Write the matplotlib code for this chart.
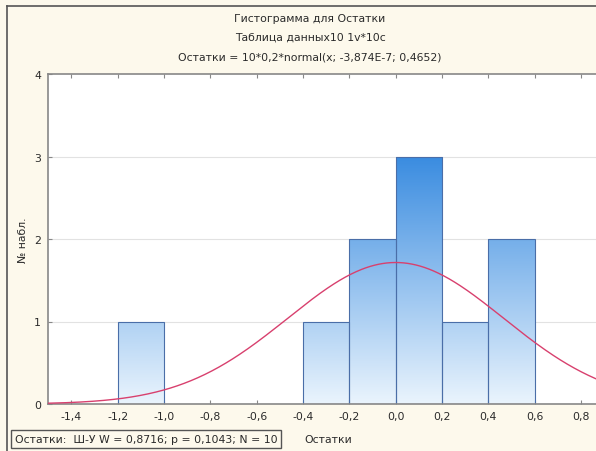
import numpy as np
import matplotlib
matplotlib.use("Agg")
import matplotlib.pyplot as plt
from matplotlib.colors import LinearSegmentedColormap
from matplotlib.patches import Rectangle
from matplotlib.lines import Line2D

# Data
bin_edges = [-1.2, -1.0, -0.8, -0.6, -0.4, -0.2, 0.0, 0.2, 0.4, 0.6]
counts = [1, 0, 0, 0, 1, 2, 3, 1, 2]
mu = -3.874e-7
sigma = 0.4652
n_obs = 10
bin_w = 0.2
xticks = [-1.4, -1.2, -1.0, -0.8, -0.6, -0.4, -0.2, 0.0, 0.2, 0.4, 0.6, 0.8]
yticks = [0, 1, 2, 3, 4]

title_lines = ["Гистограмма для Остатки",
               "Таблица данных10 1v*10c",
               "Остатки = 10*0,2*normal(x; -3,874E-7; 0,4652)"]
ylabel = "№ набл."
stat_text = "Остатки:  Ш-У W = 0,8716; p = 0,1043; N = 10"
xlabel = "Остатки"

plt.rcParams['font.family'] = ['DejaVu Sans']
FS = 7.8
TC = '#2a2a2a'

W, H = 596, 452
fig = plt.figure(figsize=(W / 100, H / 100), dpi=100)
fig.patch.set_facecolor('#fdf9ec')

# outer frame lines
fig.add_artist(Line2D([7 / W, 7 / W], [0, 1 - 7 / H], color='#555555', lw=1.2, transform=fig.transFigure))
fig.add_artist(Line2D([7 / W, 1], [1 - 7 / H, 1 - 7 / H], color='#555555', lw=1.2, transform=fig.transFigure))

ax = fig.add_axes([48 / W, 1 - 405 / H, 1 - 48 / W + 0.01, (405 - 75) / H])
ax.set_facecolor('white')
ax.set_xlim(-1.5, 0.89)
ax.set_ylim(0, 4)

# grid
for yv in yticks[1:-1]:
    ax.axhline(yv, color='#e2e2e2', lw=0.8, zorder=0)

# gradient bars
cmap = LinearSegmentedColormap.from_list('g', ['#eaf4fd', '#3a8ce0'])
grad = np.linspace(0, 1, 256).reshape(-1, 1)
for left, c in zip(bin_edges[:-1], counts):
    if c <= 0:
        continue
    im = ax.imshow(grad, extent=[left, left + bin_w, 0, 3], origin='lower',
                   cmap=cmap, aspect='auto', zorder=1, vmin=0, vmax=1)
    rect = Rectangle((left, 0), bin_w, c, facecolor='none', edgecolor='#4a6ea8', lw=0.8, zorder=2)
    ax.add_patch(rect)
    im.set_clip_path(rect)

# normal curve
xs = np.linspace(-1.5, 0.89, 400)
ys = n_obs * bin_w * np.exp(-0.5 * ((xs - mu) / sigma) ** 2) / (sigma * np.sqrt(2 * np.pi))
ax.plot(xs, ys, color='#d8406e', lw=1.0, zorder=3)

ax.set_xticks(xticks)
ax.set_xticklabels([f"{v:.1f}".replace('.', ',').replace('-0,0', '0,0') for v in xticks], fontsize=FS, color=TC)
ax.set_yticks(yticks)
ax.set_yticklabels([str(v) for v in yticks], fontsize=FS, color=TC)
ax.tick_params(direction='in', length=3, color='#888888', top=True, pad=5)
for s in ['left', 'bottom', 'top']:
    ax.spines[s].set_color('#888888')
    ax.spines[s].set_linewidth(1.2)
ax.spines['right'].set_visible(False)

ax.set_ylabel(ylabel, fontsize=FS, labelpad=4, color=TC)

for i, t in enumerate(title_lines):
    fig.text(310 / W, 1 - (19 + i * 19) / H, t, ha='center', va='center', fontsize=FS, color=TC)

fig.text(15 / W, 1 - 440 / H, stat_text, ha='left', va='center', fontsize=FS, color=TC,
         bbox=dict(boxstyle='square,pad=0.35', facecolor='none', edgecolor='#555555', lw=1.0))
fig.text(304 / W, 1 - 440 / H, xlabel, ha='left', va='center', fontsize=FS, color=TC)

fig.savefig('out.png', dpi=100, facecolor=fig.get_facecolor())
